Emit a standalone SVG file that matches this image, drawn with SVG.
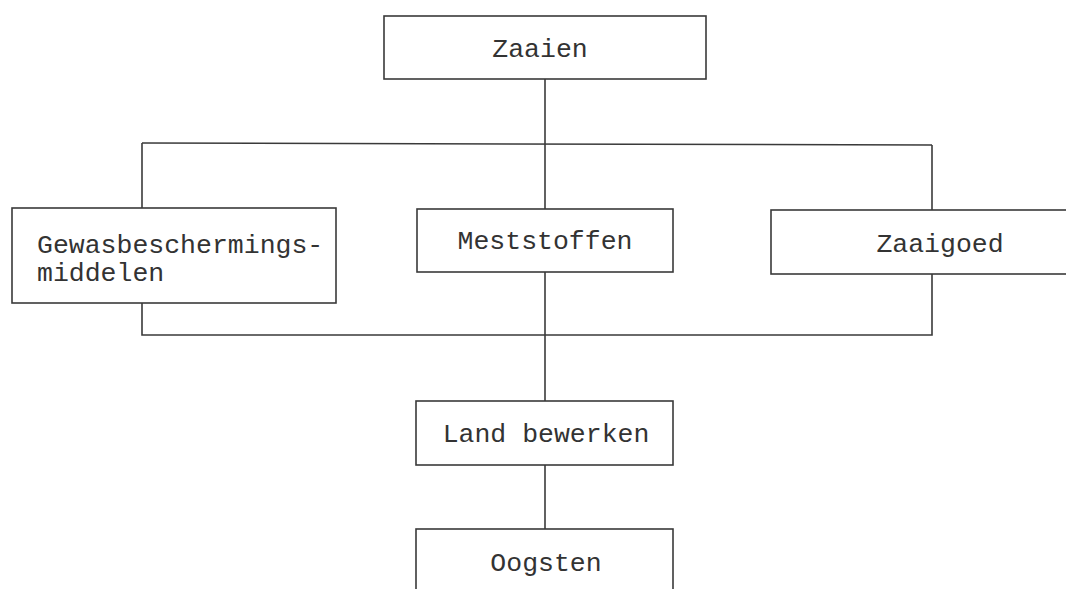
<svg xmlns="http://www.w3.org/2000/svg" width="1066" height="589" viewBox="0 0 1066 589">
  <style>
    .box { fill: #ffffff; stroke: #3a3a3a; stroke-width: 1.6; }
    .lbl { font-family: "Liberation Mono", "Courier New", monospace; font-size: 26.5px; fill: #333333; }
    .mid { text-anchor: middle; }
    .wire { fill: none; stroke: #3a3a3a; stroke-width: 1.6; }
  </style>
  <rect width="1066" height="589" fill="#ffffff"/>

  <g id="connectors">
    <!-- Zaaien down to the distribution bar -->
    <path class="wire" d="M545 79 V144"/>
    <path class="wire" d="M142 143 L932 145"/>
    <path class="wire" d="M142 143 V208"/>
    <path class="wire" d="M545 144 V209"/>
    <path class="wire" d="M932 145 V210"/>
    <!-- collecting bar under the three inputs -->
    <path class="wire" d="M142 303 V335 H932 V274"/>
    <path class="wire" d="M545 272 V401"/>
    <path class="wire" d="M545 465 V529"/>
  </g>

  <g id="zaaien">
    <rect class="box" x="384" y="16" width="322" height="63"/>
    <text class="lbl mid" x="540" y="57">Zaaien</text>
  </g>

  <g id="gewasbeschermingsmiddelen">
    <rect class="box" x="12" y="208" width="324" height="95"/>
    <text class="lbl" x="37" y="253">Gewasbeschermings-</text>
    <text class="lbl" x="37" y="281">middelen</text>
  </g>

  <g id="meststoffen">
    <rect class="box" x="417" y="209" width="256" height="63"/>
    <text class="lbl mid" x="545" y="249">Meststoffen</text>
  </g>

  <g id="zaaigoed">
    <rect class="box" x="771" y="210" width="310" height="64"/>
    <text class="lbl mid" x="940" y="252">Zaaigoed</text>
  </g>

  <g id="land-bewerken">
    <rect class="box" x="416" y="401" width="257" height="64"/>
    <text class="lbl mid" x="546" y="442">Land bewerken</text>
  </g>

  <g id="oogsten">
    <rect class="box" x="416" y="529" width="257" height="80"/>
    <text class="lbl mid" x="546" y="571">Oogsten</text>
  </g>
</svg>
